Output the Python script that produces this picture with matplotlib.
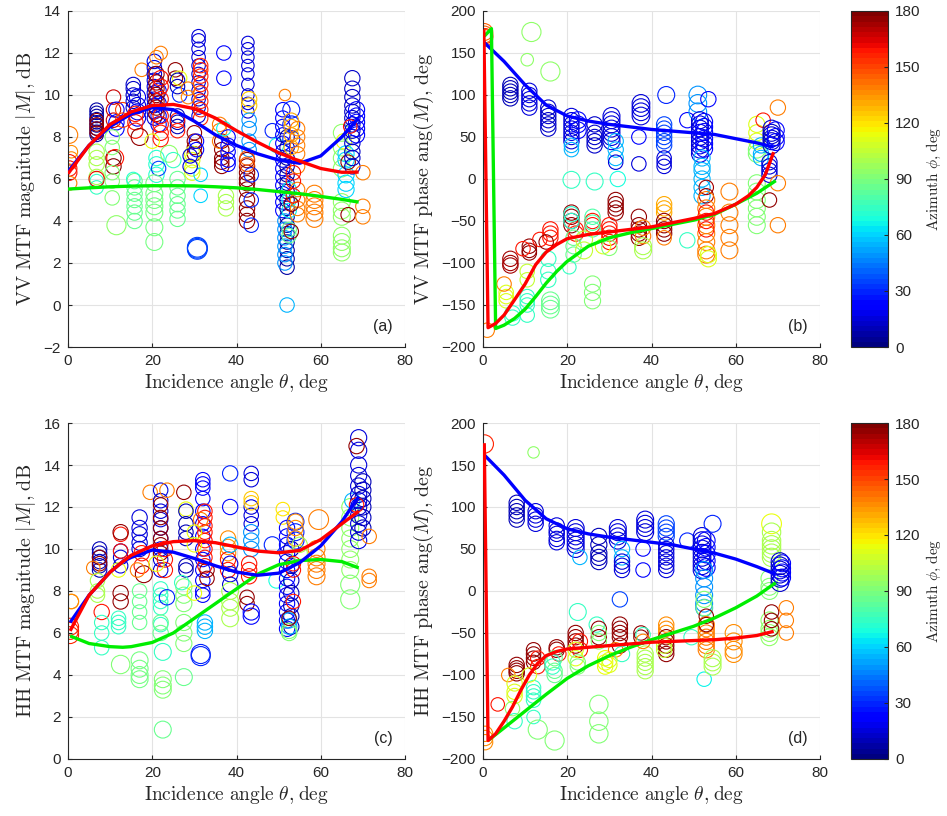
import numpy as np
import matplotlib
matplotlib.use("Agg")
import matplotlib.pyplot as plt
from matplotlib import colors as mcolors
from matplotlib.cm import ScalarMappable

plt.rcParams['mathtext.fontset'] = 'cm'
plt.rcParams['font.family'] = ['Liberation Sans', 'DejaVu Sans']

# groups: (incidence angle, azimuth, marker size, [values])
vv_mag_groups = [
    (0.3, 140, 110, [8.1]), (0.8, 135, 60, [7.3, 7.0]), (0.3, 160, 90, [6.8, 6.5, 6.3]),
    (0.5, 140, 70, [5.8]),
    (6.8, 8, 70, [9.3, 9.15, 9.0, 8.85, 8.7, 8.55, 8.4, 8.25, 8.1]),
    (6.8, 175, 70, [8.8, 8.6, 8.4, 8.2]), (6.8, 100, 90, [7.3, 7.0, 6.7, 6.1]),
    (6.8, 75, 70, [5.9, 5.6]), (6.8, 162, 90, [6.0]),
    (10.8, 168, 80, [9.9, 9.3, 8.8]), (10.8, 178, 90, [7.0, 6.6]), (11.2, 160, 110, [7.0]),
    (11.5, 20, 90, [9.3, 8.7, 8.4]), (10.5, 92, 80, [8.0, 7.5, 6.3, 5.9, 5.1]),
    (11.5, 95, 140, [3.8]), (13, 150, 80, [9.3, 8.8]),
    (15.5, 12, 80, [10.5, 10.3, 10.0, 9.7, 9.4]), (16.5, 18, 100, [9.9, 9.5, 9.2, 8.9]),
    (16, 160, 90, [9.1, 8.7, 8.3]), (17, 176, 110, [8.0]), (17.5, 140, 70, [11.2]),
    (15.8, 85, 90, [5.9, 5.6, 5.3, 5.0, 4.7, 4.4, 4.0]), (15.5, 72, 70, [6.0]),
    (20.5, 15, 80, [11.6, 11.3, 11.0, 10.7, 10.4, 10.1, 9.8, 9.5, 9.2, 8.9]),
    (21.5, 25, 90, [10.2, 9.6, 9.0, 8.6]),
    (21.0, 175, 90, [11.0, 10.6, 10.3, 10.0, 9.7, 9.4, 9.1]),
    (22.0, 160, 90, [10.8, 10.4, 9.8, 9.0, 8.6, 8.2, 7.9]),
    (21.0, 140, 70, [11.8]), (22.0, 140, 70, [12.0]), (20.0, 115, 80, [7.8]),
    (21.0, 72, 90, [7.0, 6.7, 6.2]), (21.5, 35, 80, [6.5]),
    (20.5, 88, 110, [5.8, 5.3, 5.0, 4.7, 4.4, 3.7, 3.0]),
    (25.5, 175, 80, [11.2, 10.8]), (26.5, 115, 80, [10.8]),
    (26.0, 10, 80, [10.7, 10.4, 9.0, 8.7, 8.5]), (26.5, 30, 80, [10.0]),
    (26.0, 160, 80, [8.8, 8.3]), (24.0, 95, 110, [7.2]), (25.0, 75, 90, [6.9]),
    (26.0, 85, 90, [6.0, 5.6, 5.2, 4.8, 4.5, 4.1]),
    (31.0, 15, 70, [12.8, 12.6, 12.2, 11.8, 11.4, 11.0, 10.6, 10.2, 9.8, 9.4, 9.0]),
    (31.5, 155, 80, [11.4, 11.2, 10.9, 10.5, 10.1, 9.7, 9.3, 8.9]),
    (30.0, 175, 80, [8.2, 7.8, 7.5, 7.2]), (28.5, 140, 70, [10.3, 9.9]),
    (29.5, 110, 90, [7.2, 6.9, 6.5, 6.3]), (30.7, 35, 150, [2.7, 2.75, 2.65]),
    (31.5, 60, 70, [6.2, 5.2]), (29.0, 15, 80, [6.6, 7.1]), (30.5, 25, 80, [7.4, 7.8]),
    (37.0, 25, 80, [12.0, 10.8]), (36.5, 176, 80, [7.8, 7.4, 7.0, 6.8, 6.6]),
    (36.0, 140, 80, [8.6, 8.3, 7.8]), (38.0, 20, 80, [8.0, 7.6, 7.3, 6.9, 6.7]),
    (37.0, 65, 80, [8.4]), (37.5, 100, 90, [5.2, 4.9, 4.6]),
    (42.7, 15, 60, [12.5, 12.2, 11.8, 11.4, 11.0, 10.5, 10.0, 9.6, 9.2]),
    (43.0, 125, 90, [9.8, 9.5]), (43.0, 50, 80, [8.8, 8.4, 7.8, 7.4]),
    (42.5, 175, 90, [6.9, 6.6, 6.3, 6.0, 5.8, 5.5, 5.0, 4.6, 4.3, 4.0]),
    (43.5, 30, 80, [6.2, 5.0, 3.8]), (42.5, 145, 80, [7.0, 6.7]),
    (48.5, 30, 80, [8.3]), (49.5, 65, 80, [7.6]), (51.5, 140, 50, [10.0]),
    (51.0, 20, 80, [9.3, 8.9, 8.5, 8.1, 7.7, 7.3, 6.9, 6.5, 6.1, 5.7, 5.3, 4.9, 4.5]),
    (52.0, 8, 80, [8.0, 7.5, 7.0, 6.6, 6.2, 5.8, 5.4, 5.0, 4.6, 4.2, 3.8, 3.4, 3.0,
                   2.6, 2.2, 1.8]),
    (53.0, 30, 110, [9.3, 8.6, 7.9]), (51.5, 50, 80, [4.0, 3.6, 3.2, 2.8, 2.4, 2.0]),
    (52.0, 55, 80, [0.0]), (52.5, 85, 80, [3.6, 3.3]), (52.5, 65, 80, [5.5, 5.0, 4.5]),
    (53.0, 130, 80, [8.8, 8.5, 8.1, 7.5]),
    (54.5, 140, 80, [8.4, 8.0, 7.6, 7.2, 6.6, 5.5, 5.0, 4.6, 4.3]),
    (53.5, 160, 80, [6.3, 5.9, 5.2]), (53.0, 175, 80, [4.8, 3.5]),
    (58.5, 140, 110, [5.3, 5.0, 4.7, 4.4, 4.1]),
    (65.0, 95, 110, [8.2, 7.5, 7.0, 6.5, 4.9, 4.5, 4.2, 3.3, 3.0, 2.7, 2.5]),
    (65.5, 115, 90, [7.8]), (66.0, 60, 100, [7.2, 6.9, 6.2, 5.8, 5.5]),
    (66.5, 175, 80, [4.3, 6.8]),
    (67.5, 12, 90, [10.8, 10.3, 9.9, 9.5, 9.2, 8.9, 8.6, 8.3, 8.0, 7.7, 7.3, 7.0, 6.6]),
    (68.5, 25, 100, [9.3, 9.0, 8.7, 8.4, 8.1]), (67.0, 160, 70, [8.5]),
    (70.0, 140, 80, [6.3, 4.7, 4.2]),
]

vv_phase_groups = [
    (0.3, 145, 110, [172, 168, 175]), (0.5, 155, 90, [170]), (1.0, 140, 80, [-180]),
    (6.5, 10, 90, [112, 108, 104, 100, 96]), (6.5, 172, 90, [-95, -100, -103]),
    (5.5, 110, 80, [-135, -140, -145]), (7.0, 75, 90, [-160, -165]), (5.0, 140, 80, [-125]),
    (11.0, 15, 90, [105, 100, 95, 90, 85]), (10.5, 95, 60, [142]), (11.5, 95, 140, [175]),
    (11.0, 175, 80, [-80, -85, -88]), (9.5, 160, 80, [-83]),
    (10.5, 75, 80, [-140, -145, -150, -162]), (10.5, 105, 80, [-110, -120]),
    (13.5, 160, 80, [-72]),
    (15.5, 12, 90, [85, 80, 75, 70, 65, 60]), (16.0, 95, 140, [128]),
    (16.0, 160, 90, [-60, -65, -70]), (15.0, 176, 80, [-75]),
    (15.5, 75, 90, [-95, -110, -120]), (16.0, 85, 120, [-145, -150, -155]),
    (21.0, 15, 90, [75, 70, 65, 60, 55, 50, 45]), (22.5, 25, 110, [70, 65, 58]),
    (21.0, 55, 80, [40, 35]), (21.0, 75, 110, [-1]),
    (21.0, 175, 90, [-40, -45, -50, -55]), (22.0, 160, 90, [-60, -65]),
    (21.0, 72, 90, [-42, -50]), (21.5, 85, 90, [-70, -80, -90]), (20.5, 75, 70, [-105]),
    (26.5, 12, 90, [65, 55, 50, 45, 40]), (26.5, 75, 110, [-3]),
    (26.0, 90, 100, [-125, -135, -145]), (26.0, 160, 90, [-50, -55]),
    (26.0, 80, 90, [-45, -52, -60]), (24.0, 105, 110, [-72, -85]),
    (30.5, 15, 110, [75, 70, 65, 60, 55, 50, 45]), (31.5, 55, 90, [45, 35, 25]),
    (31.5, 15, 80, [20]), (32.0, 70, 90, [0]),
    (31.5, 175, 90, [-25, -30, -35, -40]), (30.0, 160, 90, [-55, -60, -65, -70, -75]),
    (28.5, 110, 90, [-80]), (30.0, 90, 90, [-82]),
    (37.5, 15, 120, [90, 85, 80, 75]), (37.0, 25, 80, [50]), (37.0, 15, 80, [18]),
    (37.0, 175, 90, [-45, -55, -60, -65, -70]), (38.0, 140, 90, [-58, -68]),
    (38.0, 100, 110, [-80, -85]),
    (43.5, 30, 110, [100]), (43.0, 35, 90, [65, 60, 55, 50, 45, 40]),
    (43.0, 15, 80, [25, 20, 15]), (43.0, 130, 90, [-30, -35, -40]),
    (43.0, 175, 90, [-50, -55, -60, -65]), (43.0, 140, 80, [-70]),
    (48.5, 20, 90, [70]), (48.5, 75, 90, [-73]),
    (51.0, 50, 120, [100, 90, 80]), (53.5, 25, 90, [95]),
    (51.5, 15, 110, [70, 65, 60, 55, 50, 45, 40, 35, 30]),
    (52.5, 25, 110, [68, 62, 56, 48, 42, 36]),
    (52.0, 55, 100, [25, 15, 10, 0, -10, -20]), (53.0, 172, 80, [-10, -20]),
    (53.0, 140, 110, [-25, -35, -45, -55, -65, -75, -85, -90]),
    (53.5, 110, 100, [-90, -95]), (53.0, 160, 90, [-40, -50, -60]),
    (58.5, 140, 110, [-15, -40, -55, -70, -85]),
    (65.0, 110, 100, [65, 55, 45]), (66.5, 160, 80, [70]), (65.0, 90, 110, [30, 35]),
    (66.0, 55, 90, [40, 30, 25]), (65.0, 92, 110, [-5, -15, -25, -35, -45, -55]),
    (68.0, 175, 80, [-25]), (68.0, 15, 90, [5, 10, 15, 20]),
    (68.5, 12, 110, [60, 55, 52, 48, 45, 40]), (69.5, 20, 110, [58, 50, 44]),
    (70.0, 140, 90, [85, -5, -55]),
]

hh_mag_groups = [
    (0.8, 135, 80, [7.5, 7.5]), (0.5, 155, 110, [6.3, 6.1, 5.9]),
    (7.5, 10, 80, [10.0, 9.8, 9.6, 9.4, 9.2, 9.0]), (7.5, 175, 80, [9.3, 9.6]),
    (6.0, 140, 70, [9.1]), (7.0, 100, 80, [8.5, 8.0, 7.8]), (8.0, 160, 90, [7.0]),
    (8.0, 75, 80, [6.5, 6.0, 5.3]),
    (12.5, 15, 80, [9.9, 9.6, 9.2]), (12.5, 160, 80, [10.7, 9.9]),
    (12.5, 175, 90, [10.8, 7.9, 7.5]), (12.0, 115, 80, [9.0]),
    (12.0, 75, 80, [6.7, 6.5, 6.3]), (12.5, 90, 130, [4.5]),
    (17.0, 15, 90, [11.5, 11.0, 10.7, 10.3, 10.0]), (17.5, 160, 90, [9.8, 9.2]),
    (18.0, 175, 110, [8.8]), (17.0, 85, 80, [8.0, 7.5, 7.0, 6.5]),
    (17.0, 88, 110, [4.7, 4.3, 4.0, 3.8]), (16.5, 140, 80, [9.0]),
    (19.5, 140, 80, [12.7]),
    (22.0, 15, 80, [12.8, 12.3, 11.8, 11.4, 11.0, 10.5, 10.0, 9.5, 9.0]),
    (22.0, 175, 80, [12.1, 11.5, 11.0, 10.5, 10.2, 9.8]), (23.5, 140, 80, [12.8]),
    (23.0, 160, 90, [10.0, 9.5, 9.0]), (21.0, 115, 90, [9.3]),
    (22.0, 75, 80, [8.1, 7.8, 7.5, 7.2, 6.4]), (23.5, 30, 90, [7.7]),
    (22.0, 85, 90, [6.5, 6.0]), (22.5, 75, 110, [5.1]),
    (22.5, 90, 110, [3.8, 3.5, 3.3]), (22.5, 85, 110, [1.4]),
    (27.5, 175, 80, [12.7]), (28.0, 115, 80, [11.9]),
    (28.0, 10, 80, [11.8, 11.2, 10.8, 10.5, 9.2, 9.0]),
    (27.5, 90, 100, [8.2, 7.8, 7.4, 6.5, 6.0, 5.5]), (27.5, 85, 110, [3.9]),
    (27.0, 75, 80, [8.4]),
    (32.0, 20, 80, [13.3, 13.1, 12.9, 12.4, 11.8, 11.2, 10.6, 10.0, 9.5, 9.0, 8.5, 8.0,
                    7.8]),
    (32.5, 160, 80, [11.8, 11.5, 11.1, 10.8, 10.4, 10.0, 9.6, 9.2]),
    (31.5, 140, 80, [11.4]), (33.0, 175, 80, [9.0, 8.6]),
    (30.0, 115, 80, [10.8, 10.2, 7.9]), (32.5, 55, 90, [6.5, 6.3, 6.1]),
    (31.5, 30, 140, [5.0, 4.9]),
    (38.5, 30, 90, [13.6]), (38.5, 25, 90, [12.0]), (38.0, 135, 90, [10.5, 10.1, 9.8]),
    (38.0, 160, 90, [9.5, 9.0]), (38.5, 55, 90, [10.2]), (38.5, 15, 90, [9.3, 8.8, 8.3]),
    (38.5, 100, 110, [8.0, 7.5, 7.2, 6.7]),
    (43.5, 15, 80, [13.6, 13.3, 12.0, 11.6, 11.2]), (43.5, 125, 80, [12.4, 12.2]),
    (43.5, 50, 90, [10.8, 10.4, 10.0]), (43.0, 160, 90, [9.3, 9.0, 8.7]),
    (42.5, 175, 80, [7.7, 7.4]), (43.5, 25, 100, [7.0, 6.8]),
    (48.5, 30, 100, [10.2]), (49.5, 70, 90, [8.5]), (51.0, 120, 70, [11.9, 11.5]),
    (52.0, 20, 90, [11.0, 10.6, 10.2, 9.8, 9.4, 9.0, 8.6, 8.2, 7.8, 7.4, 7.0, 6.6, 6.2]),
    (53.0, 10, 90, [10.0, 9.2, 8.5, 7.9, 7.3, 6.8, 6.3]),
    (54.0, 30, 110, [11.3, 10.8, 10.4]), (54.0, 135, 90, [11.3, 11.0, 10.5]),
    (55.0, 100, 90, [10.2, 9.8]), (53.5, 160, 80, [9.3, 9.0, 7.5]),
    (52.5, 55, 90, [6.6, 6.3]), (52.5, 90, 90, [6.0, 6.1]), (52.5, 175, 80, [6.7]),
    (59.5, 140, 150, [11.4]), (59.0, 140, 110, [10.0, 9.6, 9.3, 9.0, 8.7]),
    (67.0, 95, 110, [12.0, 11.5, 11.0, 10.5, 10.0, 9.5, 9.0]),
    (67.0, 90, 140, [8.3, 7.6]), (67.5, 55, 90, [12.3]),
    (69.0, 15, 100, [15.3, 14.7, 14.0, 13.5, 13.0, 12.6, 12.3, 12.0, 11.6, 11.2, 10.8,
                     10.4]),
    (70.0, 10, 100, [13.2, 12.8, 12.4, 12.0, 11.5, 11.0]),
    (68.5, 175, 90, [14.9]), (71.5, 140, 80, [10.6, 8.7, 8.5]), (68.5, 160, 80, [12.1]),
]

hh_phase_groups = [
    (0.3, 155, 130, [175]), (0.5, 135, 90, [-170, -175, -180]), (3.5, 160, 70, [-135]),
    (8.0, 10, 90, [105, 100, 95, 90, 85]), (8.0, 175, 90, [-88, -92, -95, -98]),
    (6.0, 140, 70, [-100]), (7.5, 110, 90, [-110, -120, -125]), (7.5, 75, 90, [-155]),
    (7.0, 95, 80, [-140]),
    (12.5, 15, 90, [95, 90, 85, 80]), (12.0, 95, 50, [165]),
    (12.0, 175, 80, [-70, -75, -80, -85]), (13.0, 160, 80, [-80, -90]),
    (12.0, 75, 80, [-115, -120, -125, -130]), (12.0, 75, 70, [-150]),
    (13.0, 90, 140, [-165]), (11.0, 110, 80, [-100]),
    (17.5, 15, 90, [78, 72, 68, 62, 58]), (17.5, 175, 90, [-67, -70]),
    (18.0, 160, 80, [-75]), (17.0, 85, 90, [-80, -95, -100]),
    (16.5, 75, 90, [-85, -90]), (17.0, 90, 140, [-178]),
    (22.0, 15, 110, [75, 70, 65, 60, 55, 50]), (23.0, 55, 80, [40]),
    (22.5, 75, 110, [-25]), (22.0, 175, 90, [-50, -55, -60, -65]),
    (23.0, 160, 90, [-60, -70]), (22.0, 110, 90, [-70, -80]), (22.5, 90, 90, [-85, -90]),
    (27.5, 10, 100, [65, 55, 45, 40, 35]), (27.0, 75, 90, [-40]),
    (27.5, 175, 90, [-45, -55]), (27.5, 90, 90, [-50, -60]),
    (27.5, 90, 130, [-135, -155, -170]), (29.0, 115, 90, [-80, -85, -90]),
    (32.0, 15, 110, [75, 70, 65, 60]), (33.0, 55, 90, [50, 40]),
    (33.0, 15, 90, [35, 30, 25]), (32.5, 35, 90, [-10]),
    (32.5, 175, 90, [-40, -45, -50, -55, -65]), (31.5, 140, 80, [-70]),
    (33.0, 75, 90, [-75]), (30.0, 110, 90, [-82, -88]),
    (38.5, 15, 110, [85, 80, 75, 70]), (38.0, 20, 80, [50, 25]),
    (37.5, 175, 80, [-50, -55]), (38.0, 75, 80, [-52]),
    (38.5, 100, 100, [-75, -80, -85, -90, -95]), (38.0, 140, 80, [-60]),
    (43.5, 35, 100, [80, 75, 70, 65]), (43.5, 15, 90, [55, 50, 45, 40, 35, 30, 25]),
    (43.5, 135, 90, [-40, -45, -50]), (43.5, 175, 90, [-55, -60, -65, -70, -75]),
    (43.0, 105, 90, [-65, -70]),
    (48.5, 30, 90, [60]), (49.5, 75, 90, [-55]),
    (52.0, 15, 120, [65, 60, 55, 50, 45, 40, 35, 30, 25]),
    (53.0, 25, 120, [60, 52, 44, 36, 28]), (52.5, 50, 110, [25, 15, 5, -5, -15, -20]),
    (52.5, 65, 80, [-105]), (52.5, 90, 100, [-10, -20]),
    (53.0, 140, 100, [-40, -45, -50, -55, -60, -65, -70]), (53.0, 175, 80, [-30, -40]),
    (54.5, 100, 110, [-80, -85, -90]), (54.5, 30, 110, [80]),
    (59.5, 135, 110, [-50, -60, -70, -75]),
    (68.5, 115, 150, [80]), (68.5, 100, 130, [70, 60, 55, 50, 45, 40]),
    (68.0, 90, 110, [15, 5, 0]), (68.0, 95, 110, [-35, -45, -50, -55]),
    (68.5, 175, 80, [-25, -35, -45]), (70.5, 12, 120, [35, 30, 25, 20, 15, 10]),
    (71.0, 20, 110, [33, 27, 22, 16]), (72.0, 140, 80, [-20, -35, -50]),
]

# fitted curves
vv_mag_theta = [0, 5, 10, 15, 20, 25, 30, 35, 40, 45, 50, 55, 60, 65, 69]
vv_mag_blue = [6.35, 7.6, 8.5, 9.1, 9.4, 9.3, 8.75, 8.1, 7.6, 7.2, 6.9, 6.75, 7.1, 8.0, 8.9]
vv_mag_red = [6.25, 7.6, 8.6, 9.2, 9.5, 9.55, 9.35, 8.9, 8.3, 7.75, 7.25, 6.85, 6.5, 6.32, 6.33]
vv_mag_green = [5.52, 5.58, 5.63, 5.66, 5.68, 5.68, 5.67, 5.63, 5.58, 5.5, 5.4, 5.3, 5.17, 5.03, 4.9]

vv_ph_blue_theta = [0.2, 5, 10, 15, 20, 25, 30, 35, 40, 45, 50, 55, 60, 65, 69]
vv_ph_blue = [163, 140, 112, 88, 75, 69, 65, 62, 59, 57, 55, 53, 48, 43, 38]
vv_ph_red_theta = [0.2, 1.2, 3, 5, 8, 10, 12.5, 15, 17.5, 20, 25, 30, 35, 40, 45, 50, 55,
                   60, 63, 65, 67, 69]
vv_ph_red = [178, -177, -172, -162, -140, -125, -102, -87, -78, -71, -66, -63, -60, -57,
             -52, -47, -41, -30, -20, -10, 5, 32]
vv_ph_green_theta = [0.3, 2, 3, 5, 7.5, 10, 12.5, 15, 17.5, 20, 25, 30, 35, 40, 45, 50, 55,
                     60, 65, 69.5]
vv_ph_green = [170, 179, -178, -174, -166, -155, -140, -124, -110, -98, -80, -70, -64, -59,
               -54, -49, -42, -30, -17, -2]

hh_mag_theta = [0.5, 5, 10, 13, 15, 20, 25, 30, 35, 40, 45, 50, 55, 60, 65, 69]
hh_mag_blue = [6.5, 7.8, 8.9, 9.4, 9.6, 9.95, 9.85, 9.55, 9.2, 8.9, 8.75, 8.85, 9.35, 10.15,
               11.3, 12.5]
hh_mag_red = [6.1, 7.8, 8.9, 9.4, 9.7, 10.15, 10.35, 10.4, 10.3, 10.1, 9.9, 9.82, 9.93,
              10.45, 11.2, 11.8]
hh_mag_green = [5.86, 5.5, 5.35, 5.32, 5.35, 5.55, 6.0, 6.7, 7.4, 8.1, 8.8, 9.25, 9.45, 9.5,
                9.4, 9.1]

hh_ph_blue_theta = [0.3, 5, 10, 15, 20, 25, 30, 35, 40, 45, 50, 55, 60, 65, 69.5]
hh_ph_blue = [162, 138, 108, 86, 74, 68, 64, 61, 58, 55, 50, 45, 38, 29, 20]
hh_ph_red_theta = [0.3, 1.2, 3, 5, 7, 9, 11, 13, 15, 17.5, 20, 25, 30, 35, 40, 45, 50, 55,
                   60, 65, 69]
hh_ph_red = [176, -178, -170, -155, -138, -118, -100, -86, -77, -72, -69, -67, -65, -63,
             -61, -60, -59, -58, -56, -53, -48]
hh_ph_green_theta = [1.2, 5, 10, 15, 20, 25, 30, 35, 40, 45, 50, 55, 60, 65, 69.5]
hh_ph_green = [-178, -163, -143, -123, -104, -89, -77, -67, -58, -50, -42, -32, -20, -6, 10]

cmap = plt.get_cmap('jet', 64)
norm = mcolors.Normalize(vmin=0, vmax=180)
BLUE, RED, GREEN = '#0000ff', '#ff0000', '#00ee00'
AXC = '#262626'
SIZE_SCALE = 1.35


def expand(groups):
    xs, ys, az, ss = [], [], [], []
    for theta, phi, size, vals in groups:
        for v in vals:
            xs.append(theta)
            ys.append(v)
            az.append(phi)
            ss.append(size * SIZE_SCALE)
    return np.array(xs), np.array(ys), np.array(az), np.array(ss)


def draw_panel(ax, groups, curves, ylim, yticks, ylabel, tag):
    x, y, az, s = expand(groups)
    ax.scatter(x, y, s=s, facecolors='none', edgecolors=cmap(norm(az)),
               linewidths=0.8, zorder=2)
    for theta, vals, col in curves:
        ax.plot(theta, vals, color=col, lw=2.4, zorder=3, solid_capstyle='butt')
    ax.set_xlim(0, 80)
    ax.set_ylim(*ylim)
    ax.set_xticks(range(0, 81, 20))
    ax.set_yticks(yticks)
    ax.grid(True, color='#e3e3e3', lw=0.8)
    ax.set_axisbelow(True)
    for side in ('top', 'right'):
        ax.spines[side].set_visible(False)
    for side in ('left', 'bottom'):
        ax.spines[side].set_color(AXC)
        ax.spines[side].set_linewidth(0.8)
    ax.tick_params(direction='in', length=3, labelsize=11, colors=AXC, pad=5)
    ax.set_xlabel(r'$\mathrm{Incidence\ angle\ }\theta\mathrm{,}\;\mathrm{deg}$',
                  fontsize=14, color=AXC, labelpad=3)
    ax.set_ylabel(ylabel, fontsize=14.5, color=AXC, labelpad=4)
    ax.text(0.935, 0.04, tag, transform=ax.transAxes, ha='center', va='bottom',
            fontsize=11.5, color=AXC)


fig = plt.figure(figsize=(9.47, 8.16), dpi=100)
W, H = 947.0, 816.0


def px_axes(x0, x1, y0, y1):
    return fig.add_axes([x0 / W, 1 - y1 / H, (x1 - x0) / W, (y1 - y0) / H])


ax_a = px_axes(68, 405, 11, 347)
ax_b = px_axes(483, 820, 11, 347)
ax_c = px_axes(68, 405, 423, 759)
ax_d = px_axes(483, 820, 423, 759)

draw_panel(ax_a, vv_mag_groups,
           [(vv_mag_theta, vv_mag_green, GREEN), (vv_mag_theta, vv_mag_blue, BLUE),
            (vv_mag_theta, vv_mag_red, RED)],
           (-2, 14), range(-2, 15, 2),
           r'$\mathrm{VV\ MTF\ magnitude\ }|M|\mathrm{,}\;\mathrm{dB}$', '(a)')
draw_panel(ax_b, vv_phase_groups,
           [(vv_ph_blue_theta, vv_ph_blue, BLUE), (vv_ph_green_theta, vv_ph_green, GREEN),
            (vv_ph_red_theta, vv_ph_red, RED)],
           (-200, 200), range(-200, 201, 50),
           r'$\mathrm{VV\ MTF\ phase\ ang}(M)\mathrm{,}\;\mathrm{deg}$', '(b)')
draw_panel(ax_c, hh_mag_groups,
           [(hh_mag_theta, hh_mag_green, GREEN), (hh_mag_theta, hh_mag_blue, BLUE),
            (hh_mag_theta, hh_mag_red, RED)],
           (0, 16), range(0, 17, 2),
           r'$\mathrm{HH\ MTF\ magnitude\ }|M|\mathrm{,}\;\mathrm{dB}$', '(c)')
draw_panel(ax_d, hh_phase_groups,
           [(hh_ph_blue_theta, hh_ph_blue, BLUE), (hh_ph_green_theta, hh_ph_green, GREEN),
            (hh_ph_red_theta, hh_ph_red, RED)],
           (-200, 200), range(-200, 201, 50),
           r'$\mathrm{HH\ MTF\ phase\ ang}(M)\mathrm{,}\;\mathrm{deg}$', '(d)')

for (y0, y1) in [(11, 347), (423, 759)]:
    cax = px_axes(851, 888, y0, y1)
    sm = ScalarMappable(norm=norm, cmap=cmap)
    cb = fig.colorbar(sm, cax=cax, ticks=range(0, 181, 30))
    cb.outline.set_edgecolor(AXC)
    cb.outline.set_linewidth(0.8)
    cax.tick_params(direction='in', length=3, labelsize=11, colors=AXC, pad=5)
    cb.set_label(r'$\mathrm{Azimuth\ }\phi\mathrm{,}\;\mathrm{deg}$', fontsize=11,
                 color=AXC, labelpad=3)

fig.savefig('out.png', dpi=100)
